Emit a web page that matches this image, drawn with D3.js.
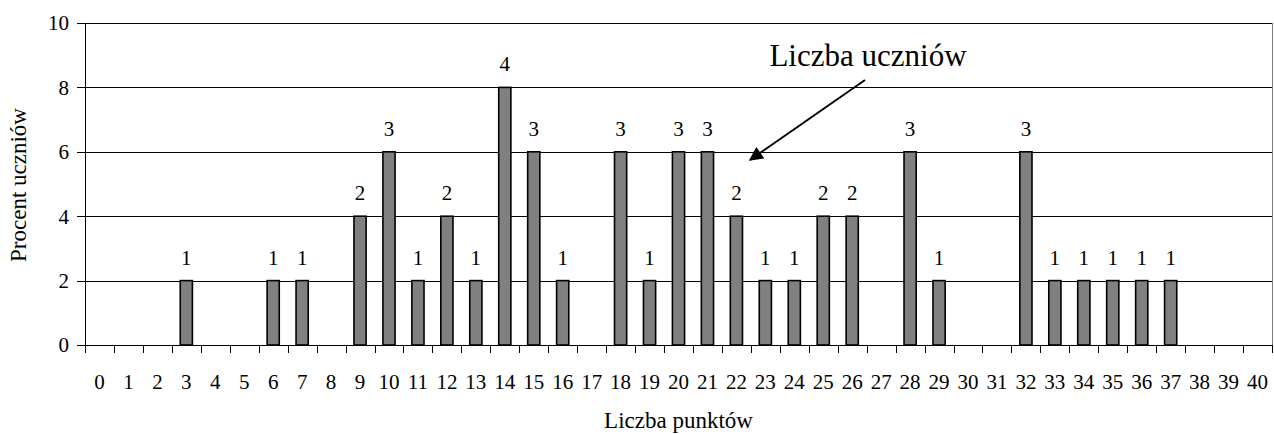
<!DOCTYPE html>
<html>
<head>
<meta charset="utf-8">
<script src="https://cdn.jsdelivr.net/npm/d3@7"></script>
<style>
  html, body { margin: 0; padding: 0; background: #fff; }
  svg { display: block; font-family: "Liberation Serif", "Times New Roman", serif; }
</style>
</head>
<body>
<svg id="chart" width="1274" height="434"></svg>
<script>
// Punkty (0–40) i rozkład wyników
const points = d3.range(0, 41);
const barPoints = [3, 6, 7, 9, 10, 11, 12, 13, 14, 15, 16, 18, 19, 20, 21, 22, 23, 24, 25, 26, 28, 29, 32, 33, 34, 35, 36, 37];
const percentValues = [2, 2, 2, 4, 6, 2, 4, 2, 8, 6, 2, 6, 2, 6, 6, 4, 2, 2, 4, 4, 6, 2, 6, 2, 2, 2, 2, 2];
const studentCounts = [1, 1, 1, 2, 3, 1, 2, 1, 4, 3, 1, 3, 1, 3, 3, 2, 1, 1, 2, 2, 3, 1, 3, 1, 1, 1, 1, 1];
const yTicks = [0, 2, 4, 6, 8, 10];

const data = barPoints.map((p, i) => ({ p, pct: percentValues[i], n: studentCounts[i] }));

const svg = d3.select("#chart");
const plotLeft = 85, plotRight = 1272, plotTop = 23, plotBottom = 345;

const x = d3.scaleBand().domain(points).range([plotLeft, plotRight]).padding(0);
const y = d3.scaleLinear().domain([0, 10]).range([plotBottom, plotTop]);
const barW = x.bandwidth() * 0.42;

// Linie siatki
svg.append("g")
  .selectAll("line")
  .data(yTicks.filter(t => t > 0))
  .join("line")
  .attr("x1", plotLeft).attr("x2", plotRight)
  .attr("y1", d => Math.round(y(d)) + 0.5).attr("y2", d => Math.round(y(d)) + 0.5)
  .attr("stroke", "#000").attr("stroke-width", 1);

// Prawa krawędź obszaru wykresu
svg.append("line")
  .attr("x1", plotRight + 0.5).attr("x2", plotRight + 0.5)
  .attr("y1", plotTop).attr("y2", plotBottom)
  .attr("stroke", "#808080").attr("stroke-width", 1);

// Słupki
svg.append("g")
  .selectAll("rect")
  .data(data)
  .join("rect")
  .attr("x", d => x(d.p) + x.bandwidth() / 2 - barW / 2)
  .attr("y", d => y(d.pct))
  .attr("width", barW)
  .attr("height", d => y(0) - y(d.pct))
  .attr("fill", "#808080")
  .attr("stroke", "#000")
  .attr("stroke-width", 1.6);

// Etykiety liczby uczniów
svg.append("g")
  .selectAll("text")
  .data(data)
  .join("text")
  .attr("x", d => x(d.p) + x.bandwidth() / 2)
  .attr("y", d => y(d.pct) - 16)
  .attr("text-anchor", "middle")
  .attr("font-size", 21)
  .text(d => d.n);

// Oś Y
const yAxis = svg.append("g");
yAxis.append("line")
  .attr("x1", plotLeft + 0.5).attr("x2", plotLeft + 0.5)
  .attr("y1", plotTop).attr("y2", plotBottom)
  .attr("stroke", "#000");
yAxis.selectAll("line.tick")
  .data(yTicks)
  .join("line")
  .attr("class", "tick")
  .attr("x1", plotLeft - 8).attr("x2", plotLeft)
  .attr("y1", d => Math.round(y(d)) + 0.5).attr("y2", d => Math.round(y(d)) + 0.5)
  .attr("stroke", "#000");
yAxis.selectAll("text")
  .data(yTicks)
  .join("text")
  .attr("x", plotLeft - 16)
  .attr("y", d => y(d))
  .attr("dy", "0.35em")
  .attr("text-anchor", "end")
  .attr("font-size", 21)
  .text(d => d);

// Oś X
const xAxis = svg.append("g");
xAxis.append("line")
  .attr("x1", plotLeft).attr("x2", plotRight)
  .attr("y1", plotBottom + 0.5).attr("y2", plotBottom + 0.5)
  .attr("stroke", "#000");
xAxis.selectAll("line.tick")
  .data(points.concat([41]))
  .join("line")
  .attr("class", "tick")
  .attr("x1", d => Math.round(d < 41 ? x(d) : plotRight) + 0.5)
  .attr("x2", d => Math.round(d < 41 ? x(d) : plotRight) + 0.5)
  .attr("y1", plotBottom).attr("y2", plotBottom + 8)
  .attr("stroke", "#000");
xAxis.selectAll("text")
  .data(points)
  .join("text")
  .attr("x", d => x(d) + x.bandwidth() / 2)
  .attr("y", 389)
  .attr("text-anchor", "middle")
  .attr("font-size", 21)
  .text(d => d);

// Tytuły osi
svg.append("text")
  .attr("x", (plotLeft + plotRight) / 2)
  .attr("y", 428)
  .attr("text-anchor", "middle")
  .attr("font-size", 23)
  .text("Liczba punktów");

svg.append("text")
  .attr("transform", "translate(26,185) rotate(-90)")
  .attr("text-anchor", "middle")
  .attr("font-size", 23)
  .text("Procent uczniów");

// Objaśnienie ze strzałką
svg.append("defs").append("marker")
  .attr("id", "arrowhead")
  .attr("viewBox", "0 0 10 10")
  .attr("refX", 9).attr("refY", 5)
  .attr("markerWidth", 9).attr("markerHeight", 7)
  .attr("markerUnits", "strokeWidth")
  .attr("orient", "auto")
  .append("path")
  .attr("d", "M0,0 L10,5 L0,10 Z")
  .attr("fill", "#000");

svg.append("line")
  .attr("x1", 865).attr("y1", 80)
  .attr("x2", 750).attr("y2", 160)
  .attr("stroke", "#000").attr("stroke-width", 2)
  .attr("marker-end", "url(#arrowhead)");

svg.append("text")
  .attr("x", 868)
  .attr("y", 66)
  .attr("text-anchor", "middle")
  .attr("font-size", 31)
  .text("Liczba uczniów");
</script>
</body>
</html>
